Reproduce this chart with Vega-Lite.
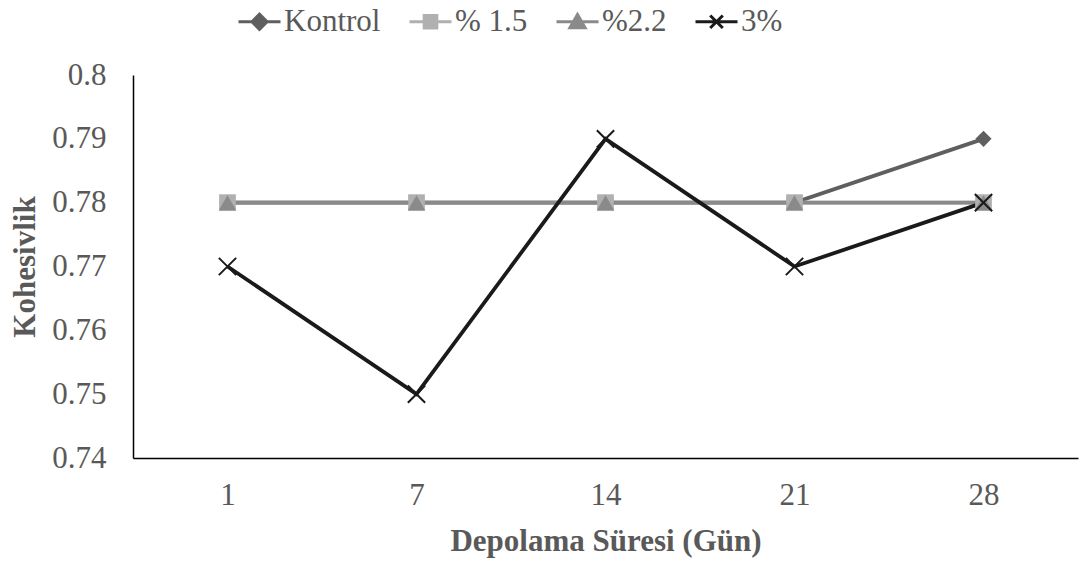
{
  "$schema": "https://vega.github.io/schema/vega-lite/v6.json",
  "width": 945,
  "height": 383,
  "autosize": {"type": "none"},
  "padding": {"left": 133, "top": 75, "right": 4, "bottom": 105},
  "background": "white",
  "config": {
    "view": {"stroke": null},
    "axis": {
      "labelFont": "Liberation Serif",
      "titleFont": "Liberation Serif",
      "labelColor": "#595959",
      "titleColor": "#595959",
      "labelFontSize": 31,
      "titleFontSize": 31,
      "titleFontWeight": "bold",
      "domainColor": "#000000",
      "domainWidth": 1.5,
      "ticks": false,
      "grid": false
    },
    "legend": {
      "labelFont": "serif",
      "labelFontSize": 31,
      "labelColor": "#595959",
      "labelFontStyle": "normal"
    }
  },
  "data": {
    "values": [
      {"gun": 1, "seri": "Kontrol", "deger": 0.78},
      {"gun": 7, "seri": "Kontrol", "deger": 0.78},
      {"gun": 14, "seri": "Kontrol", "deger": 0.78},
      {"gun": 21, "seri": "Kontrol", "deger": 0.78},
      {"gun": 28, "seri": "Kontrol", "deger": 0.79},
      {"gun": 1, "seri": "% 1.5", "deger": 0.78},
      {"gun": 7, "seri": "% 1.5", "deger": 0.78},
      {"gun": 14, "seri": "% 1.5", "deger": 0.78},
      {"gun": 21, "seri": "% 1.5", "deger": 0.78},
      {"gun": 28, "seri": "% 1.5", "deger": 0.78},
      {"gun": 1, "seri": "%2.2", "deger": 0.78},
      {"gun": 7, "seri": "%2.2", "deger": 0.78},
      {"gun": 14, "seri": "%2.2", "deger": 0.78},
      {"gun": 21, "seri": "%2.2", "deger": 0.78},
      {"gun": 28, "seri": "%2.2", "deger": 0.78},
      {"gun": 1, "seri": "3%", "deger": 0.77},
      {"gun": 7, "seri": "3%", "deger": 0.75},
      {"gun": 14, "seri": "3%", "deger": 0.79},
      {"gun": 21, "seri": "3%", "deger": 0.77},
      {"gun": 28, "seri": "3%", "deger": 0.78}
    ]
  },
  "encoding": {
    "x": {
      "field": "gun",
      "type": "ordinal",
      "sort": [1, 7, 14, 21, 28],
      "scale": {"padding": 0.5},
      "axis": {
        "title": "Depolama Süresi (Gün)",
        "labelAngle": 0,
        "labelPadding": 22,
        "titlePadding": 16
      }
    },
    "y": {
      "field": "deger",
      "type": "quantitative",
      "scale": {"domain": [0.74, 0.8], "zero": false, "nice": false},
      "axis": {
        "title": "Kohesivlik",
        "values": [0.74, 0.75, 0.76, 0.77, 0.78, 0.79, 0.8],
        "format": ".2~f",
        "labelPadding": 27,
        "titlePadding": 10
      }
    }
  },
  "layer": [
    {
      "mark": {"type": "line", "strokeWidth": 3.8},
      "encoding": {
        "color": {
          "field": "seri",
          "type": "nominal",
          "sort": ["Kontrol", "% 1.5", "%2.2", "3%"],
          "scale": {
            "domain": ["Kontrol", "% 1.5", "%2.2", "3%"],
            "range": ["#5f5f5f", "#b0b0b0", "#8a8a8a", "#1a1a1a"]
          },
          "legend": {
            "title": null,
            "orient": "none",
            "direction": "horizontal",
            "legendX": 104,
            "legendY": -76,
            "padding": 0,
            "labelFont": "Times New Roman",
            "labelFontSize": 31,
            "labelColor": "#595959",
            "symbolSize": 1764,
            "symbolStrokeWidth": 3,
            "labelOffset": 2,
            "columnPadding": 22,
            "encode": {
              "symbols": {
                "update": {
                  "shape": {
                    "signal": "datum.value === 'Kontrol' ? 'M-1,0L1,0M-0.36,0L0,-0.36L0.36,0L0,0.36Z' : datum.value === '% 1.5' ? 'M-1,0L1,0M-0.3,-0.3L0.3,-0.3L0.3,0.3L-0.3,0.3Z' : datum.value === '%2.2' ? 'M-1,0L1,0M0,-0.34L0.36,0.28L-0.36,0.28Z' : 'M-1,0L1,0M-0.3,-0.3L0.3,0.3M-0.3,0.3L0.3,-0.3'"
                  },
                  "fill": {"scale": "color", "field": "value"},
                  "stroke": {"scale": "color", "field": "value"},
                  "strokeWidth": {"value": 3}
                }
              }
            }
          }
        }
      }
    },
    {
      "transform": [{"filter": "datum.seri !== '3%'"}],
      "mark": {"type": "point", "filled": true, "opacity": 1},
      "encoding": {
        "color": {"field": "seri", "type": "nominal", "legend": null},
        "shape": {
          "field": "seri",
          "type": "nominal",
          "scale": {
            "domain": ["Kontrol", "% 1.5", "%2.2"],
            "range": ["diamond", "square", "triangle-up"]
          },
          "legend": null
        },
        "size": {
          "field": "seri",
          "type": "nominal",
          "scale": {
            "domain": ["Kontrol", "% 1.5", "%2.2"],
            "range": [260, 300, 280]
          },
          "legend": null
        }
      }
    },
    {
      "transform": [{"filter": "datum.seri === '3%'"}],
      "mark": {
        "type": "point",
        "filled": false,
        "opacity": 1,
        "shape": "M-1,-1L1,1M-1,1L1,-1",
        "size": 300,
        "strokeWidth": 2
      },
      "encoding": {
        "color": {"field": "seri", "type": "nominal", "legend": null}
      }
    }
  ]
}
